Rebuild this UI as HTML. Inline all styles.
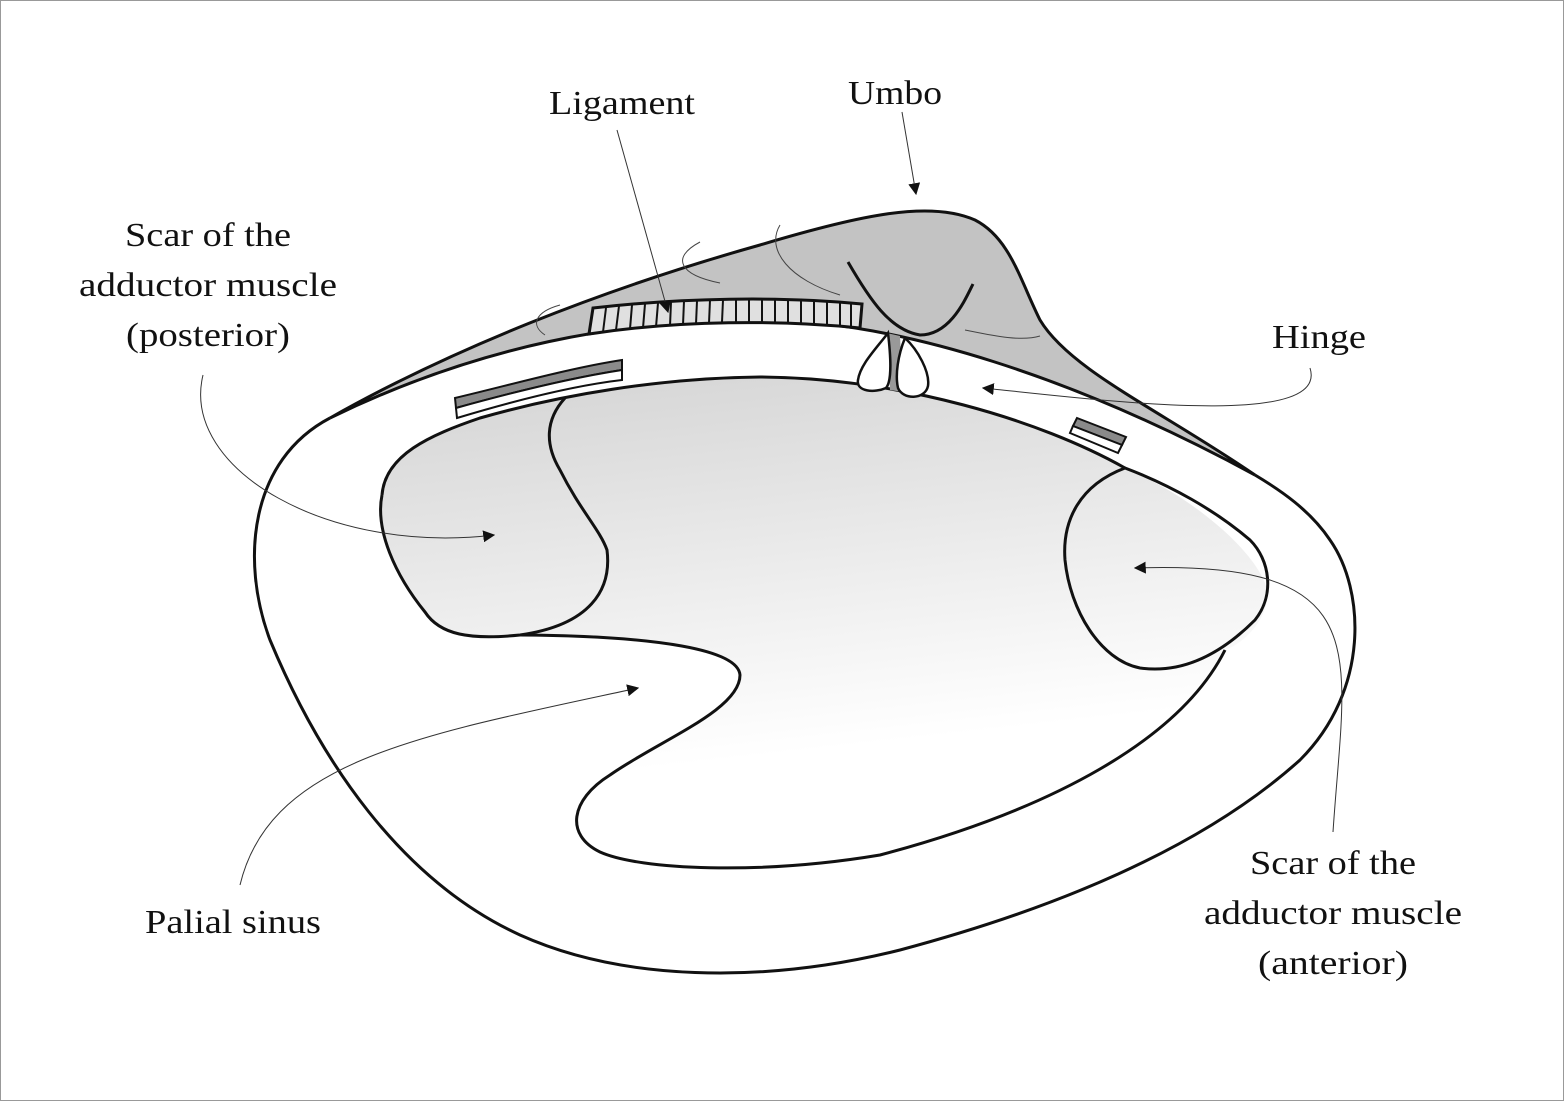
<!DOCTYPE html>
<html><head><meta charset="utf-8"><style>
html,body{margin:0;padding:0;background:#fff}
svg{display:block}
text{font-family:"Liberation Serif",serif;font-size:34px;fill:#111;text-anchor:middle}
</style></head><body>
<svg width="1564" height="1101" viewBox="0 0 1564 1101" xmlns="http://www.w3.org/2000/svg">
<defs>
<linearGradient id="g" x1="0.4" y1="0" x2="0.55" y2="0.75">
<stop offset="0" stop-color="#d8d8d8"/><stop offset="1" stop-color="#ffffff"/>
</linearGradient>
<marker id="a" viewBox="0 0 10 10" refX="9" refY="5" markerWidth="12" markerHeight="12" markerUnits="userSpaceOnUse" orient="auto"><path d="M0,0 L10,5 L0,10 Z" fill="#111"/></marker>
</defs>
<rect x="0.5" y="0.5" width="1563" height="1100" fill="#fff" stroke="#999"/>
<!-- gray umbo region -->
<path d="M330,418 C450,350 600,290 760,245 C860,215 930,200 975,220 C1010,238 1020,280 1040,320 C1070,370 1160,410 1255,475 C1080,380 900,320 760,320 C620,320 480,345 330,418 Z" fill="#c3c3c3" stroke="#111" stroke-width="3"/>
<!-- outer shell -->
<path d="M330,418 C250,460 240,560 270,640 C320,760 400,880 520,935 C620,980 760,985 900,950 C1050,910 1200,850 1300,760 C1370,690 1365,590 1330,540 C1310,510 1280,490 1255,475" fill="none" stroke="#111" stroke-width="3"/>
<!-- inner region fill -->
<path d="M382,495 C385,455 430,435 480,418 C560,395 660,378 760,377 C900,378 1040,420 1125,468 C1200,500 1265,560 1268,595 C1265,625 1240,645 1225,650 C1180,740 1050,810 880,855 C760,875 640,870 600,852 C565,835 570,800 610,775 C660,740 740,710 740,675 C738,650 660,636 520,635 C470,640 440,635 425,612 C395,575 375,530 382,495 Z" fill="url(#g)" stroke="none"/>
<path d="M382,495 C385,455 430,435 480,418 C560,395 660,378 760,377 C900,378 1040,420 1125,468" fill="none" stroke="#111" stroke-width="3"/>
<path d="M1225,650 C1180,740 1050,810 880,855 C760,875 640,870 600,852 C565,835 570,800 610,775 C660,740 740,710 740,675 C738,650 660,636 520,635" fill="none" stroke="#111" stroke-width="3"/>
<!-- posterior scar -->
<path d="M565,398 C545,420 545,445 560,470 C580,510 600,530 607,550 C612,590 590,625 520,635 C470,640 440,635 425,612 C395,575 375,530 382,495" fill="none" stroke="#111" stroke-width="3"/>
<!-- anterior scar -->
<path d="M1125,468 C1080,485 1062,520 1065,560 C1070,610 1100,660 1140,668 C1190,675 1230,645 1255,620 C1275,595 1270,560 1250,540 C1215,510 1170,485 1125,468 Z" fill="none" stroke="#111" stroke-width="3"/>
<!-- thin umbo lines -->
<g fill="none" stroke="#444" stroke-width="1">
<path d="M545,335 C530,325 535,312 560,305"/>
<path d="M720,283 C680,275 670,258 700,242"/>
<path d="M840,295 C790,280 765,250 780,225"/>
<path d="M965,330 C990,335 1020,342 1040,336"/>
</g>
<path d="M848,262 C870,300 890,330 920,335 C950,335 965,300 973,284" fill="none" stroke="#111" stroke-width="3"/>
<!-- ligament -->
<path d="M593,308 C680,298 780,296 862,304 L860,328 C780,320 680,320 589,334 Z" fill="#e0e0e0" stroke="#111" stroke-width="3"/>
<g stroke="#111" stroke-width="2">
<line x1="606" y1="308" x2="603" y2="332"/><line x1="619" y1="306" x2="616" y2="330"/><line x1="632" y1="305" x2="630" y2="329"/><line x1="645" y1="304" x2="643" y2="328"/><line x1="658" y1="303" x2="656" y2="327"/><line x1="671" y1="302" x2="670" y2="326"/><line x1="684" y1="301" x2="683" y2="325"/><line x1="697" y1="301" x2="696" y2="324"/><line x1="710" y1="300" x2="709" y2="323"/><line x1="723" y1="300" x2="722" y2="322"/><line x1="736" y1="299" x2="736" y2="322"/><line x1="749" y1="299" x2="749" y2="322"/><line x1="762" y1="299" x2="762" y2="322"/><line x1="775" y1="299" x2="775" y2="322"/><line x1="788" y1="300" x2="788" y2="323"/><line x1="801" y1="300" x2="801" y2="323"/><line x1="814" y1="301" x2="814" y2="324"/><line x1="827" y1="302" x2="827" y2="325"/><line x1="840" y1="302" x2="840" y2="326"/><line x1="851" y1="303" x2="851" y2="327"/>
</g>
<!-- hinge teeth -->
<path d="M887,333 L900,336 L903,392 L890,390 Z" fill="#999"/>
<path d="M888,333 C875,350 860,365 858,380 C856,392 875,393 886,388 C893,380 890,350 888,333 Z" fill="#fff" stroke="#111" stroke-width="2.5"/>
<path d="M905,338 C898,355 895,375 898,388 C903,400 925,400 928,386 C930,372 918,350 905,338 Z" fill="#fff" stroke="#111" stroke-width="2.5"/>
<!-- bars -->
<path d="M455,398 C510,385 570,368 622,360 L622,370 C570,378 510,393 456,408 Z" fill="#8a8a8a" stroke="#111" stroke-width="2"/>
<path d="M456,408 C510,393 570,378 622,370 L622,380 C570,386 510,402 457,418 Z" fill="#fff" stroke="#111" stroke-width="2"/>
<path d="M1077,418 L1126,437 L1122,445 L1073,426 Z" fill="#8a8a8a" stroke="#111" stroke-width="2"/>
<path d="M1073,426 L1122,445 L1118,453 L1070,433 Z" fill="#fff" stroke="#111" stroke-width="2"/>
<!-- leaders -->
<g fill="none" stroke="#333" stroke-width="1" marker-end="url(#a)">
<path d="M902,112 L916,194"/>
<path d="M617,130 L668,312"/>
<path d="M203,375 C180,470 330,555 494,535"/>
<path d="M1310,368 C1330,430 1100,400 983,388"/>
<path d="M240,885 C270,760 420,735 638,688"/>
<path d="M1333,832 C1345,650 1380,560 1135,568"/>
</g>
<!-- labels -->
<text x="895" y="104" textLength="94" lengthAdjust="spacingAndGlyphs">Umbo</text>
<text x="622" y="114" textLength="146" lengthAdjust="spacingAndGlyphs">Ligament</text>
<text x="208" y="246" textLength="166" lengthAdjust="spacingAndGlyphs">Scar of the</text>
<text x="208" y="296" textLength="258" lengthAdjust="spacingAndGlyphs">adductor muscle</text>
<text x="208" y="346" textLength="164" lengthAdjust="spacingAndGlyphs">(posterior)</text>
<text x="1319" y="348" textLength="94" lengthAdjust="spacingAndGlyphs">Hinge</text>
<text x="233" y="933" textLength="176" lengthAdjust="spacingAndGlyphs">Palial sinus</text>
<text x="1333" y="874" textLength="166" lengthAdjust="spacingAndGlyphs">Scar of the</text>
<text x="1333" y="924" textLength="258" lengthAdjust="spacingAndGlyphs">adductor muscle</text>
<text x="1333" y="974" textLength="150" lengthAdjust="spacingAndGlyphs">(anterior)</text>
</svg>
</body></html>
